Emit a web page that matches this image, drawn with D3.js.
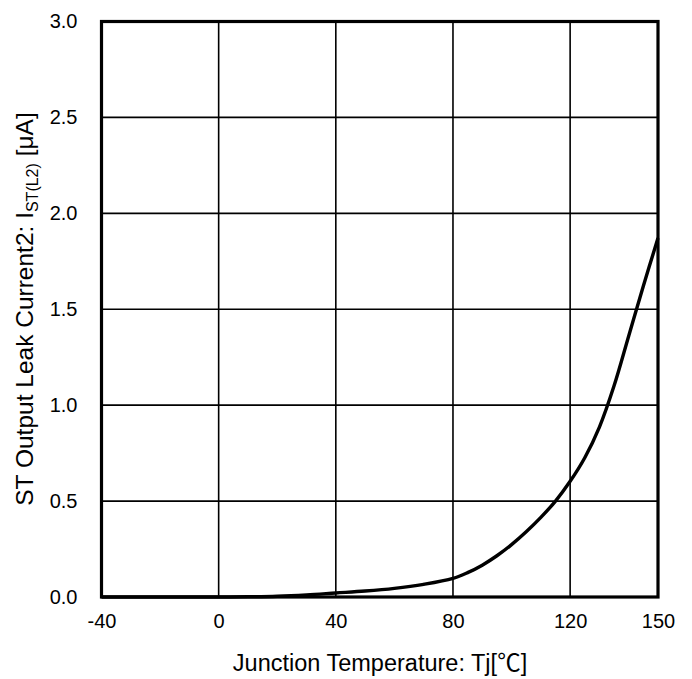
<!DOCTYPE html>
<html>
<head>
<meta charset="utf-8">
<script src="https://cdn.jsdelivr.net/npm/d3@7"></script>
<style>
  html, body { margin: 0; padding: 0; background: #fff; }
  svg { display: block; font-family: "Liberation Sans", Arial, sans-serif; }
</style>
</head>
<body>
<svg id="chart" width="692" height="679"></svg>
<script>
// Data
const temperature = [-40, -30, -20, -10, 0, 10, 20, 30, 40, 50, 60, 70, 80, 85, 90, 95, 100, 105, 110, 115, 120, 125, 130, 135, 140, 145, 150];
const leakCurrent = [0, 0, 0, 0, 0, 0.001, 0.004, 0.011, 0.021, 0.031, 0.045, 0.066, 0.097, 0.127, 0.166, 0.215, 0.273, 0.34, 0.415, 0.5, 0.603, 0.726, 0.886, 1.101, 1.361, 1.621, 1.871];
const xTicks = [-40, 0, 40, 80, 120, 150];
const yTicks = [0, 0.5, 1.0, 1.5, 2.0, 2.5, 3.0];

const svg = d3.select("#chart");
const W = 692, H = 679;
const margin = { left: 101.5, right: W - 658, top: 21.5, bottom: H - 597 };

const x = d3.scaleLinear().domain([-40, 150]).range([margin.left, W - margin.right]);
const y = d3.scaleLinear().domain([0, 3]).range([H - margin.bottom, margin.top]);

// grid
const g = svg.append("g");
g.selectAll("line.vg").data(xTicks.slice(1, -1)).join("line")
  .attr("x1", d => x(d)).attr("x2", d => x(d))
  .attr("y1", y(0)).attr("y2", y(3))
  .attr("stroke", "#000").attr("stroke-width", 1.6);
g.selectAll("line.hg").data(yTicks.slice(1, -1)).join("line")
  .attr("x1", x(-40)).attr("x2", x(150))
  .attr("y1", d => y(d)).attr("y2", d => y(d))
  .attr("stroke", "#000").attr("stroke-width", 1.6);

// curve
const line = d3.line().x((d, i) => x(temperature[i])).y(d => y(Math.max(0, d))).curve(d3.curveCatmullRom.alpha(0.5));
svg.append("path").datum(leakCurrent)
  .attr("d", line)
  .attr("fill", "none").attr("stroke", "#000").attr("stroke-width", 3.4)
  .attr("stroke-linejoin", "round");

// border
svg.append("rect")
  .attr("x", x(-40)).attr("y", y(3))
  .attr("width", x(150) - x(-40)).attr("height", y(0) - y(3))
  .attr("fill", "none").attr("stroke", "#000").attr("stroke-width", 3.2);

// axes (labels only)
const xAxis = d3.axisBottom(x).tickValues(xTicks).tickSize(0).tickPadding(17).tickFormat(d => String(d));
const xg = svg.append("g").attr("transform", `translate(0,${y(0)})`).call(xAxis);
xg.select(".domain").remove();
xg.selectAll("text").attr("font-size", 20).attr("fill", "#000").attr("font-family", "Liberation Sans, Arial, sans-serif");

const yAxis = d3.axisLeft(y).tickValues(yTicks).tickSize(0).tickPadding(24).tickFormat(d3.format(".1f"));
const yg = svg.append("g").attr("transform", `translate(${x(-40)},0)`).call(yAxis);
yg.select(".domain").remove();
yg.selectAll("text").attr("font-size", 20).attr("fill", "#000").attr("font-family", "Liberation Sans, Arial, sans-serif");

// titles
const xt = svg.append("text")
  .attr("x", 380).attr("y", 671)
  .attr("text-anchor", "middle").attr("font-size", 23.5).attr("fill", "#000");
xt.append("tspan").text("Junction Temperature: Tj[");
xt.append("tspan").attr("font-family", "Noto Sans CJK JP").text("℃");
xt.append("tspan").text("]");

const yt = svg.append("text")
  .attr("transform", "translate(33,309) rotate(-90)")
  .attr("text-anchor", "middle").attr("font-size", 24.5).attr("fill", "#000");
yt.append("tspan").text("ST Output Leak Current2: I");
yt.append("tspan").attr("font-size", 16).attr("dy", 5).text("ST(L2)");
yt.append("tspan").attr("dy", -5).text(" [μA]");
</script>
</body>
</html>
